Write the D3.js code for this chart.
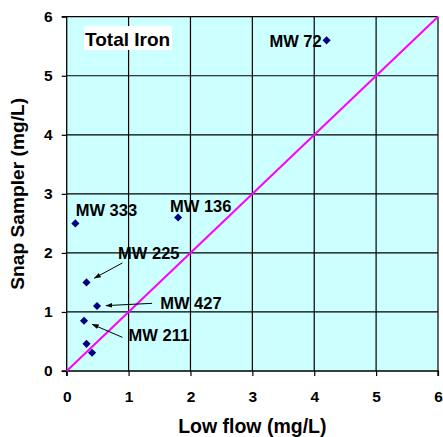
<!DOCTYPE html>
<html><head><meta charset="utf-8">
<script src="https://cdn.jsdelivr.net/npm/d3@7"></script>
<style>body{margin:0;background:#fff}svg{display:block}text{font-family:"Liberation Sans",Arial,sans-serif;font-weight:bold}</style>
</head><body>
<script>
const xTicks = [0,1,2,3,4,5,6];
const yTicks = [0,1,2,3,4,5,6];
const lowFlow = [4.2, 0.14, 1.8, 0.32, 0.49, 0.28, 0.32, 0.41];
const snap    = [5.6, 2.5, 2.6, 1.5, 1.1, 0.85, 0.46, 0.31];
const wellNames = ["MW 72","MW 333","MW 136","MW 225","MW 427","MW 211","",""];
const oneToOne = [[0,0],[6,6]];
// label anchor (data units), text-anchor, and optional arrow start (data units)
const labelX = [4.12, 0.145, 1.67, 0.83, 1.51, 1.0, null, null];
const labelY = [5.48, 2.63, 2.69, 1.9, 1.05, 0.5, null, null];
const labelAnchor = ["end","start","start","start","start","start",null,null];
const arrowFromX = [null,null,null,0.9,1.38,0.9,null,null];
const arrowFromY = [null,null,null,1.83,1.146,0.57,null,null];

const W=443,H=437, m={l:66.7,r:5,t:16.7,b:66};
const svg=d3.select("body").append("svg").attr("width",W).attr("height",H);
const x=d3.scaleLinear().domain([0,6]).range([m.l,W-m.r]);
const y=d3.scaleLinear().domain([0,6]).range([H-m.b,m.t]);

svg.append("defs").append("marker").attr("id","ah").attr("viewBox","0 0 10 10")
  .attr("refX",9).attr("refY",5).attr("markerWidth",7).attr("markerHeight",7).attr("orient","auto")
  .append("path").attr("d","M0,1.5L10,5L0,8.5Z").attr("fill","#000");

svg.append("rect").attr("x",x(0)).attr("y",y(6)).attr("width",x(6)-x(0)).attr("height",y(0)-y(6)).attr("fill","#CCFFFF");

// grid
svg.append("g").selectAll("line").data(xTicks.slice(1)).join("line")
  .attr("x1",d=>x(d)).attr("x2",d=>x(d)).attr("y1",y(0)).attr("y2",y(6)).attr("stroke","#000").attr("stroke-width",1.2);
svg.append("g").selectAll("line").data(yTicks.slice(1)).join("line")
  .attr("y1",d=>y(d)).attr("y2",d=>y(d)).attr("x1",x(0)).attr("x2",x(6)).attr("stroke","#000").attr("stroke-width",1.2);

// axes
const xa=svg.append("g").attr("transform",`translate(0,${y(0)})`).call(d3.axisBottom(x).tickValues(xTicks).tickSize(5).tickPadding(15).tickFormat(d3.format("d")));
const ya=svg.append("g").attr("transform",`translate(${x(0)},0)`).call(d3.axisLeft(y).tickValues(yTicks).tickSize(5).tickPadding(9).tickFormat(d3.format("d")));
[xa,ya].forEach(a=>{a.select(".domain").attr("stroke","#000").attr("stroke-width",1.3);
  a.selectAll("text").attr("font-size",15.5).attr("font-family","Liberation Sans, Arial").attr("font-weight","bold").attr("fill","#000");
  a.selectAll(".tick line").attr("stroke","#000").attr("stroke-width",1.2);});
ya.select(".domain").attr("d",`M-5,${y(6)}H0V${y(0)}H-5`);
xa.select(".domain").attr("d",`M${x(0)},5V0H${x(6)}V5`);

// 1:1 line
svg.append("path").datum(oneToOne).attr("d",d3.line().x(d=>x(d[0])).y(d=>y(d[1])))
  .attr("stroke","#FF00FF").attr("stroke-width",2).attr("fill","none");

// points
const sym=d3.symbol().type(d3.symbolDiamond2).size(42);
svg.append("g").selectAll("path").data(lowFlow.map((v,i)=>[v,snap[i]])).join("path")
  .attr("d",sym).attr("transform",d=>`translate(${x(d[0])},${y(d[1])})`).attr("fill","#000080");

// labels
wellNames.forEach((n,i)=>{
  if(!n) return;
  svg.append("text").attr("x",x(labelX[i])).attr("y",y(labelY[i])).attr("text-anchor",labelAnchor[i])
    .attr("font-size",16.5).attr("fill","#000").text(n);
  if(arrowFromX[i]!=null){
    const tx=x(lowFlow[i]), ty=y(snap[i]);
    const fx=x(arrowFromX[i]), fy=y(arrowFromY[i]);
    const dx=fx-tx, dy=fy-ty, L=Math.hypot(dx,dy);
    svg.append("line").attr("x1",fx).attr("y1",fy).attr("x2",tx+dx/L*9).attr("y2",ty+dy/L*9)
      .attr("stroke","#000").attr("stroke-width",1).attr("marker-end","url(#ah)");
  }
});

// title box
const tg=svg.append("g");
tg.append("rect").attr("x",84).attr("y",26).attr("width",88).attr("height",24).attr("fill","#fff");
tg.append("text").attr("x",85).attr("y",46).attr("font-size",19).text("Total Iron");

// axis titles
svg.append("text").attr("x",(x(0)+x(6))/2).attr("y",433).attr("text-anchor","middle").attr("font-size",19.5).text("Low flow (mg/L)");
svg.append("text").attr("transform",`translate(23.5,${(y(0)+y(6))/2}) rotate(-90)`).attr("text-anchor","middle").attr("font-size",19.2).text("Snap Sampler (mg/L)");
</script>
</body></html>
